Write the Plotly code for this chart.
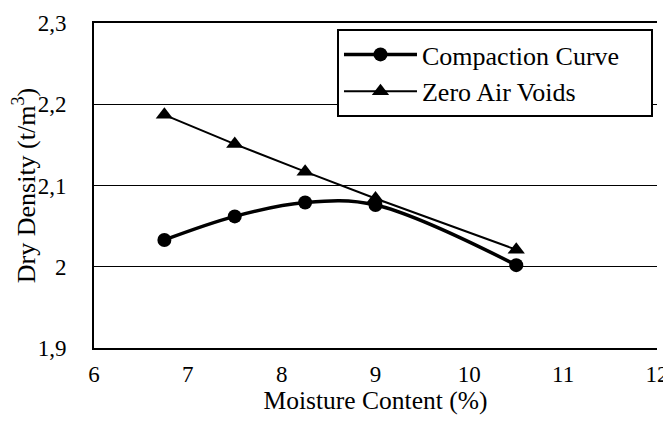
import plotly.graph_objects as go

moisture = [6.75, 7.5, 8.25, 9.0, 10.5]
compaction = [2.033, 2.062, 2.079, 2.076, 2.002]
zero_air_voids = [2.187, 2.151, 2.117, 2.084, 2.021]
x_ticks = [6, 7, 8, 9, 10, 11, 12]
y_ticks = [1.9, 2.0, 2.1, 2.2, 2.3]

FONT = "Liberation Serif"
NBSP = "\u00a0"

fig = go.Figure()
fig.add_trace(go.Scatter(
    x=moisture, y=compaction, name="Compaction Curve" + NBSP * 4,
    mode="lines+markers",
    line=dict(color="black", width=3.5, shape="spline", smoothing=1.0),
    marker=dict(symbol="circle", size=14, color="black"),
))
fig.add_trace(go.Scatter(
    x=moisture, y=zero_air_voids, name="Zero Air Voids",
    mode="lines+markers",
    line=dict(color="black", width=2),
    marker=dict(symbol="triangle-up", size=15, color="black"),
))

# The page body adds an 8px margin, so the figure is 8px smaller than the window
fig.update_layout(
    width=663, height=417,
    margin=dict(l=86, r=14, t=15, b=77, autoexpand=False),
    paper_bgcolor="white", plot_bgcolor="white",
    separators=",.",
    font=dict(family=FONT, color="black", size=23),
    showlegend=True,
    legend=dict(
        x=0.4316, y=0.9815, xanchor="left", yanchor="top",
        bordercolor="black", borderwidth=2, bgcolor="white",
        font=dict(family=FONT, size=26, color="black"),
        itemwidth=73,
    ),
    xaxis=dict(
        range=[6, 12], tickvals=x_ticks, showgrid=False, zeroline=False,
        showline=True, mirror=True, linecolor="black", linewidth=1.8, ticks="",
        automargin=False,
        ticklabelstandoff=4,
        tickfont=dict(family=FONT, size=23),
        title=dict(text="Moisture Content (%)", font=dict(family=FONT, size=25.5), standoff=0),
    ),
    yaxis=dict(
        range=[1.9, 2.3], tickvals=y_ticks, showgrid=True, gridcolor="black", gridwidth=1.3,
        zeroline=False, showline=True, linecolor="black", linewidth=2, ticks="",
        automargin=False,
        ticklabelstandoff=21,
        tickfont=dict(family=FONT, size=23),
        title=dict(text="Dry Density (t/m<sup>3</sup>)", font=dict(family=FONT, size=26), standoff=6),
    ),
)

fig.write_html("out.html")
